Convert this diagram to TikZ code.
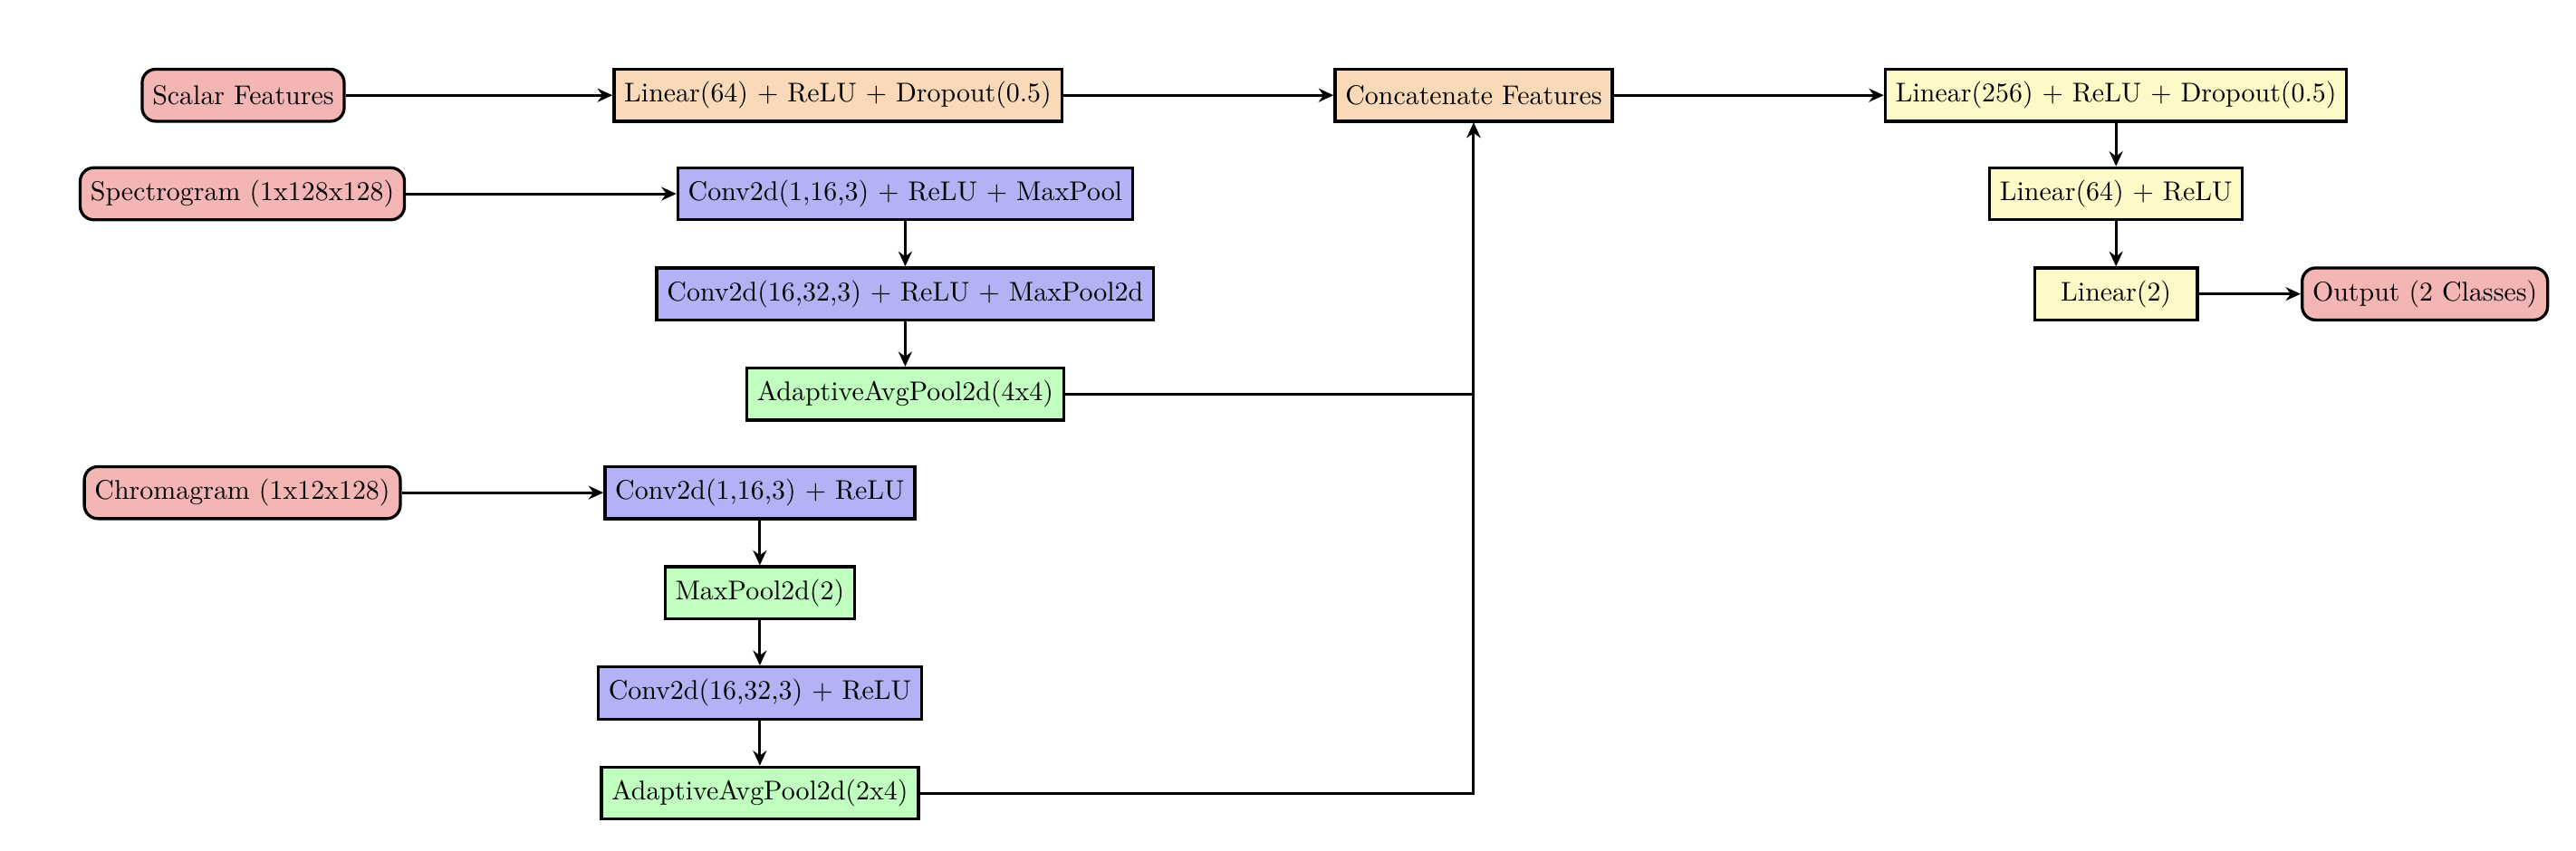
\documentclass[tikz,border=0pt]{standalone}
\usetikzlibrary{arrows.meta}
\definecolor{cpink}{RGB}{244,181,181}
\definecolor{corange}{RGB}{249,217,183}
\definecolor{cyellow}{RGB}{254,250,200}
\definecolor{cblue}{RGB}{178,178,245}
\definecolor{cgreen}{RGB}{192,255,192}
\begin{document}
\begin{tikzpicture}[x=0.606pt,y=-0.606pt,
  base/.style={draw=black,line width=1.1pt,minimum height=19.2pt,minimum width=60pt,inner xsep=3.8pt,inner ysep=2pt,font=\normalsize},
  inbox/.style={base,fill=cpink,rounded corners=5pt},
  orbox/.style={base,fill=corange},
  yebox/.style={base,fill=cyellow},
  blbox/.style={base,fill=cblue},
  grbox/.style={base,fill=cgreen},
  arr/.style={line width=1pt,-{Stealth[length=5.5pt,width=5pt,inset=1.8pt]}}]
\useasboundingbox (0,0) rectangle (1568,518);
\node[inbox] (scalar) at (148,58) {Scalar Features};
\node[orbox] (lin64a) at (510,58) {Linear(64) + ReLU + Dropout(0.5)};
\node[orbox] (concat) at (897,58) {Concatenate Features};
\node[yebox] (lin256) at (1288,58) {Linear(256) + ReLU + Dropout(0.5)};
\node[inbox] (spec) at (147.5,118) {Spectrogram (1x128x128)};
\node[blbox] (conv1) at (551,118) {Conv2d(1,16,3) + ReLU + MaxPool};
\node[blbox] (conv2) at (551,179) {Conv2d(16,32,3) + ReLU + MaxPool2d};
\node[grbox] (aap44) at (551,240) {AdaptiveAvgPool2d(4x4)};
\node[yebox] (lin64b) at (1288,118) {Linear(64) + ReLU};
\node[yebox] (lin2) at (1288,179) {Linear(2)};
\node[inbox] (out) at (1476,179) {Output (2 Classes)};
\node[inbox] (chroma) at (147.5,300) {Chromagram (1x12x128)};
\node[blbox] (cconv1) at (462.5,300) {Conv2d(1,16,3) + ReLU};
\node[grbox] (mp) at (462.5,361) {MaxPool2d(2)};
\node[blbox] (cconv2) at (462.5,422) {Conv2d(16,32,3) + ReLU};
\node[grbox] (aap24) at (462.5,483) {AdaptiveAvgPool2d(2x4)};
\draw[arr] (scalar) -- (lin64a);
\draw[arr] (lin64a) -- (concat);
\draw[arr] (concat) -- (lin256);
\draw[arr] (lin256) -- (lin64b);
\draw[arr] (lin64b) -- (lin2);
\draw[arr] (lin2) -- (out);
\draw[arr] (spec) -- (conv1);
\draw[arr] (conv1) -- (conv2);
\draw[arr] (conv2) -- (aap44);
\draw[arr] (aap44.east) -| (concat.south);
\draw[arr] (chroma) -- (cconv1);
\draw[arr] (cconv1) -- (mp);
\draw[arr] (mp) -- (cconv2);
\draw[arr] (cconv2) -- (aap24);
\draw[arr] (aap24.east) -| (concat.south);
\end{tikzpicture}
\end{document}
